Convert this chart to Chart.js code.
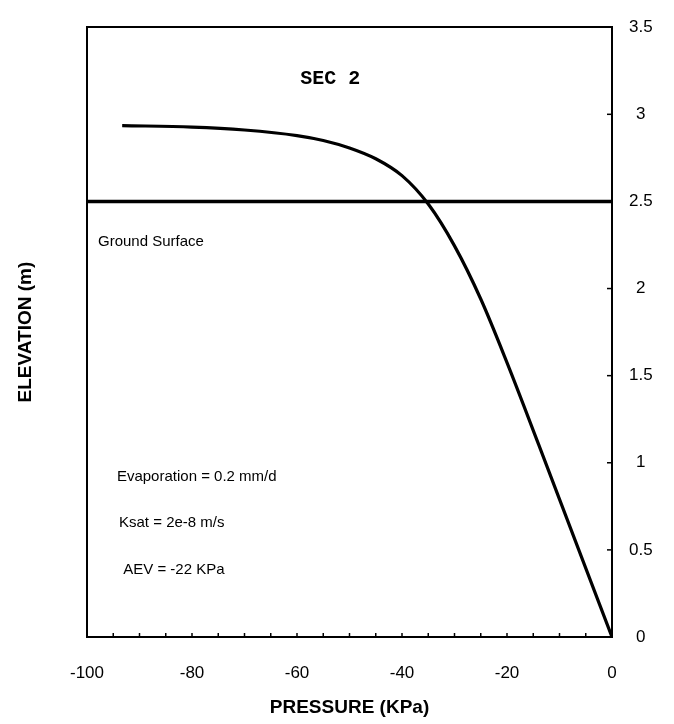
<!DOCTYPE html>
<html>
<head>
<meta charset="utf-8">
<script src="https://cdn.jsdelivr.net/npm/chart.js@4/dist/chart.umd.min.js"></script>
<style>
  html, body { margin: 0; padding: 0; background: #fff; }
  canvas { display: block; }
</style>
</head>
<body>
<canvas id="profile" width="674" height="724"></canvas>
<script>
// pressure profile (KPa vs m)
const pressure  = [-93.3, -80, -70, -60, -55, -50, -45, -40, -35, -30, -25, -20, -14, -7, 0];
const elevation = [2.935, 2.927, 2.91, 2.878, 2.85, 2.807, 2.745, 2.648, 2.485, 2.245, 1.94, 1.575, 1.107, 0.553, 0];

// ground surface line
const groundX = [-100, 0];
const groundY = [2.5, 2.5];

const xTicks = [-100, -80, -60, -40, -20, 0];
const yTicks = [0, 0.5, 1, 1.5, 2, 2.5, 3, 3.5];

const notes = [
  { text: 'SEC 2', x: -59.4, y: 3.2, font: 'bold 20px "Liberation Mono", "Courier New", monospace' },
  { text: 'Ground Surface', x: -97.9, y: 2.27, font: '15px "Liberation Sans", Arial, sans-serif' },
  { text: 'Evaporation = 0.2 mm/d', x: -94.3, y: 0.92, font: '15px "Liberation Sans", Arial, sans-serif' },
  { text: 'Ksat = 2e-8 m/s', x: -93.9, y: 0.657, font: '15px "Liberation Sans", Arial, sans-serif' },
  { text: 'AEV = -22 KPa', x: -93.1, y: 0.388, font: '15px "Liberation Sans", Arial, sans-serif' }
];

const font = '"Liberation Sans", Arial, sans-serif';

// small tick marks pointing into the plot, plus the text notes
const innerTicks = {
  id: 'innerTicks',
  afterDraw(chart) {
    const ctx = chart.ctx;
    const x = chart.scales.x, y = chart.scales.y;
    const area = chart.chartArea;
    ctx.save();
    ctx.strokeStyle = '#000';
    ctx.lineWidth = 1.5;
    x.ticks.forEach(t => {
      const px = x.getPixelForValue(t.value);
      ctx.beginPath();
      ctx.moveTo(px, area.bottom);
      ctx.lineTo(px, area.bottom - 4);
      ctx.stroke();
    });
    y.ticks.forEach(t => {
      const py = y.getPixelForValue(t.value);
      ctx.beginPath();
      ctx.moveTo(area.right, py);
      ctx.lineTo(area.right - 5, py);
      ctx.stroke();
    });
    ctx.fillStyle = '#000';
    ctx.textAlign = 'left';
    ctx.textBaseline = 'middle';
    notes.forEach(n => {
      ctx.font = n.font;
      ctx.fillText(n.text, x.getPixelForValue(n.x), y.getPixelForValue(n.y));
    });
    ctx.restore();
  }
};

new Chart(document.querySelector('#profile').getContext('2d'), {
  type: 'scatter',
  data: {
    datasets: [
      {
        label: 'Pressure',
        data: pressure.map((p, i) => ({ x: p, y: elevation[i] })),
        showLine: true,
        borderColor: '#000',
        borderWidth: 3.2,
        pointRadius: 0,
        cubicInterpolationMode: 'monotone',
        fill: false
      },
      {
        label: 'Ground Surface',
        data: groundX.map((g, i) => ({ x: g, y: groundY[i] })),
        showLine: true,
        borderColor: '#000',
        borderWidth: 3.5,
        pointRadius: 0,
        fill: false
      }
    ]
  },
  options: {
    responsive: false,
    animation: false,
    layout: { padding: { top: 14, right: 0, bottom: 0, left: 0 } },
    plugins: {
      legend: { display: false },
      tooltip: { enabled: false }
    },
    scales: {
      x: {
        type: 'linear',
        position: 'bottom',
        min: -100,
        max: 0,
        afterFit(s) { s.height = 87; },
        afterBuildTicks(s) {
          const t = [];
          for (let v = -100; v <= 0; v += 5) t.push({ value: v });
          s.ticks = t;
        },
        ticks: {
          autoSkip: false,
          maxRotation: 0,
          padding: 26,
          color: '#000',
          font: { family: font, size: 17 },
          callback: v => xTicks.includes(v) ? String(v) : ''
        },
        grid: { display: false, drawTicks: false },
        border: { display: true, color: '#000', width: 2 },
        title: {
          display: true,
          text: 'PRESSURE (KPa)',
          color: '#000',
          font: { family: font, size: 19, weight: 'bold' },
          padding: { top: 4, bottom: 5 }
        }
      },
      xTop: {
        type: 'linear',
        position: 'top',
        min: -100,
        max: 0,
        afterFit(s) { s.height = 0; },
        ticks: { display: false },
        grid: { display: false, drawTicks: false },
        border: { display: true, color: '#000', width: 2 }
      },
      y: {
        type: 'linear',
        position: 'right',
        min: 0,
        max: 3.5,
        afterFit(s) { s.width = 62; },
        afterBuildTicks(s) { s.ticks = yTicks.map(v => ({ value: v })); },
        ticks: {
          padding: 17,
          crossAlign: 'center',
          color: '#000',
          font: { family: font, size: 17 },
          callback: v => String(v)
        },
        grid: { display: false, drawTicks: false },
        border: { display: true, color: '#000', width: 2 }
      },
      yLeft: {
        type: 'linear',
        position: 'left',
        min: 0,
        max: 3.5,
        afterFit(s) { s.width = 87; },
        ticks: { display: false },
        grid: { display: false, drawTicks: false },
        border: { display: true, color: '#000', width: 2 },
        title: {
          display: true,
          text: 'ELEVATION (m)',
          color: '#000',
          font: { family: font, size: 19, weight: 'bold' },
          padding: { top: 14, bottom: 0 }
        }
      }
    }
  },
  plugins: [innerTicks]
});
</script>
</body>
</html>
